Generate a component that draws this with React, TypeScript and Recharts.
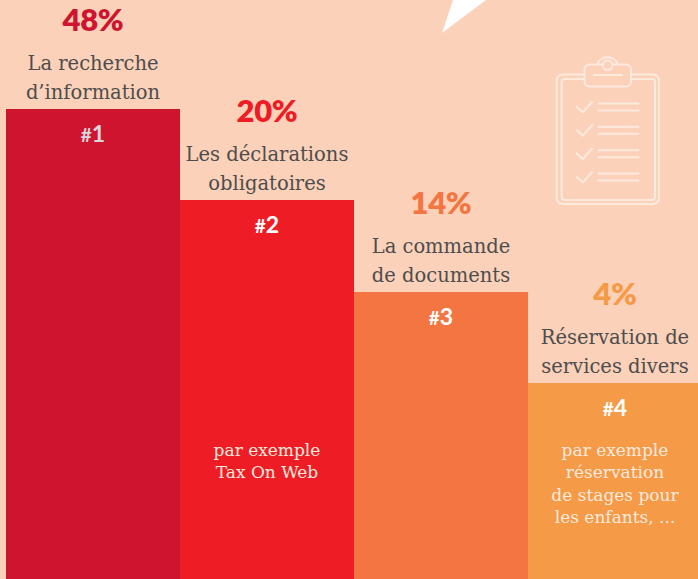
import { BarChart, Bar, Cell, XAxis, YAxis, LabelList } from 'recharts'

// bar levels are read off the picture in px from the bottom edge, they are not proportional to the shares
const ranks = ['#1', '#2', '#3', '#4']
const levels = [470, 379, 287, 196]
const shares = ['48%', '20%', '14%', '4%']
const titles = [
  ['La recherche', 'd\u2019information'],
  ['Les déclarations', 'obligatoires'],
  ['La commande', 'de documents'],
  ['Réservation de', 'services divers'],
]
const notes = [
  [],
  ['par exemple', 'Tax On Web'],
  [],
  ['par exemple', 'réservation', 'de stages pour', 'les enfants, ...'],
]
const colors = ['#cf1430', '#ee1d25', '#f37642', '#f59a47']
const rankColors = ['#dcd6dc', '#ffffff', '#ffffff', '#ffffff']

const data = ranks.map((rank, i) => ({ rank, level: levels[i] }))

const BG = '#fbd1b9'
const ICON = '#fdeadf'
const SANS = 'Lato, sans-serif'
const SLAB = '"DejaVu Serif", serif'

function BarText(props: any) {
  const { x, y, width, height, index } = props
  const cx = x + width / 2
  const bottom = y + height
  return (
    <g>
      <text x={cx} y={y - 77.6} textAnchor="middle" fontFamily={SANS} fontWeight={800} fontSize={31} letterSpacing={-0.3} fill={colors[index]}>
        {shares[index]}
      </text>
      {titles[index].map((line, k) => (
        <text key={k} x={cx} y={y - 39 + k * 28.6} textAnchor="middle" fontFamily={SLAB} fontSize={19.5} fill="#4d4d4d">
          {line}
        </text>
      ))}
      <text x={cx} y={y + 33} textAnchor="middle" fontFamily={SANS} fontWeight={700} fill={rankColors[index]}>
        <tspan fontSize={19}>{ranks[index].charAt(0)}</tspan>
        <tspan fontSize={23}>{ranks[index].slice(1)}</tspan>
      </text>
      {notes[index].map((line, k) => (
        <text key={k} x={cx} y={bottom - 123 + k * 22.3} textAnchor="middle" fontFamily={SLAB} fontSize={17} fill="#fde9de">
          {line}
        </text>
      ))}
    </g>
  )
}

function ClipboardIcon() {
  const rows = [0, 1, 2, 3]
  return (
    <g fill="none" stroke={ICON} strokeWidth={2} strokeLinecap="round" strokeLinejoin="round">
      <rect x={556.7} y={74.5} width={102.3} height={129.5} rx={6} />
      <rect x={561.7} y={79} width={93.3} height={121} rx={3} />
      <path d="M597 65 A11 11 0 0 1 618 65" />
      <rect x={584.5} y={64.5} width={46.5} height={22} rx={5} fill={BG} />
      <circle cx={607.7} cy={65.3} r={4.8} fill={BG} />
      <line x1={594} y1={75} x2={621.7} y2={75} />
      {rows.map((r) => (
        <g key={r} transform={`translate(0 ${r * 23.35})`}>
          <path d="M576.7 106.7 L582.7 112.3 L592 102" />
          <line x1={598.5} y1={103.5} x2={638.5} y2={103.5} />
          <line x1={598.5} y1={110.5} x2={638.5} y2={110.5} />
        </g>
      ))}
    </g>
  )
}

export default function App() {
  return (
    <div style={{ position: 'fixed', left: 0, top: 0, width: 698, height: 579, overflow: 'hidden', background: BG }}>
      <BarChart
        width={702}
        height={579}
        data={data}
        margin={{ top: 0, right: 0, bottom: 0, left: 6 }}
        barCategoryGap={0}
      >
        <XAxis dataKey="rank" hide />
        <YAxis hide domain={[0, 579]} />
        <polygon points="442,33 453,0 486,0" fill="#ffffff" />
        <ClipboardIcon />
        <Bar dataKey="level" isAnimationActive={false}>
          {data.map((d, i) => (
            <Cell key={d.rank} fill={colors[i]} />
          ))}
          <LabelList dataKey="level" content={BarText} />
        </Bar>
      </BarChart>
    </div>
  )
}
